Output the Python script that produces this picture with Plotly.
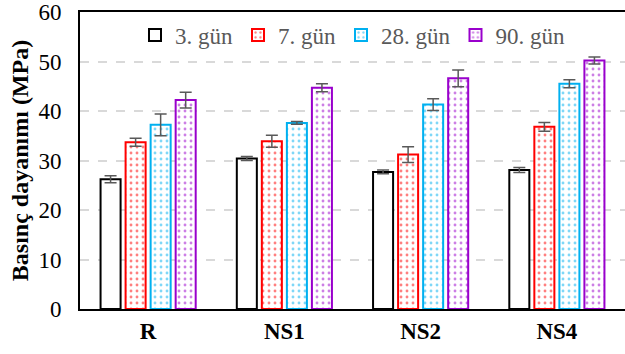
import plotly.graph_objects as go

categories = ["R", "NS1", "NS2", "NS4"]
series_names = ["3. gün", "7. gün", "28. gün", "90. gün"]
values = [
    [26.2, 30.4, 27.7, 28.1],
    [33.7, 33.9, 31.2, 36.8],
    [37.2, 37.6, 41.3, 45.5],
    [42.2, 44.7, 46.6, 50.2],
]
errors = [
    [0.7, 0.4, 0.4, 0.5],
    [0.8, 1.2, 1.6, 0.9],
    [2.2, 0.3, 1.2, 0.8],
    [1.6, 0.8, 1.7, 0.7],
]
colors = ["#000000", "#FF0000", "#00B0F0", "#9900CC"]
patterns = ["", ".", ".", "."]
yticks = [0, 10, 20, 30, 40, 50, 60]

fig = go.Figure()
for name, vals, errs, col, pat in zip(series_names, values, errors, colors, patterns):
    fig.add_trace(go.Bar(
        x=categories, y=vals, name=name,
        marker=dict(
            color="white",
            line=dict(color=col, width=2),
            pattern=dict(shape=pat, fgcolor=col, bgcolor="white", size=6, solidity=0.18),
        ),
        error_y=dict(type="data", array=errs, visible=True, color="#595959", thickness=1.5, width=6),
    ))

font_family = "Liberation Serif"
fig.update_layout(
    width=625, height=354,
    margin=dict(l=80, r=0, t=12, b=45),
    plot_bgcolor="white", paper_bgcolor="white",
    barmode="group", bargap=0.265, bargroupgap=0.2,
    font=dict(family=font_family, size=23, color="black"),
    showlegend=True,
    legend=dict(orientation="h", x=0.5, xanchor="center", y=0.995, yanchor="top",
                font=dict(size=23, color="#595959", family=font_family),
                itemwidth=30,
                bgcolor="rgba(255,255,255,0)", traceorder="normal"),
    xaxis=dict(showline=True, linecolor="black", linewidth=2, mirror=True, automargin=False,
               ticks="", tickfont=dict(size=23, family=font_family, color="black")),
    yaxis=dict(range=[0, 60], tickvals=yticks, showline=True, linecolor="black", linewidth=2,
               showgrid=True, gridcolor="#D9D9D9", griddash="dash", gridwidth=1.5,
               zeroline=False, ticks="", tickfont=dict(size=23), automargin=False,
               ticklabelstandoff=12,
               title=dict(text="<b>Basınç dayanımı (MPa)</b>", font=dict(size=24), standoff=3)),
)
fig.update_xaxes(tickprefix="<b>", ticksuffix="</b>")

fig.write_html(
    "out.html",
    config={"displayModeBar": False},
    post_script="document.body.style.margin='0';document.body.style.overflow='hidden';",
)
